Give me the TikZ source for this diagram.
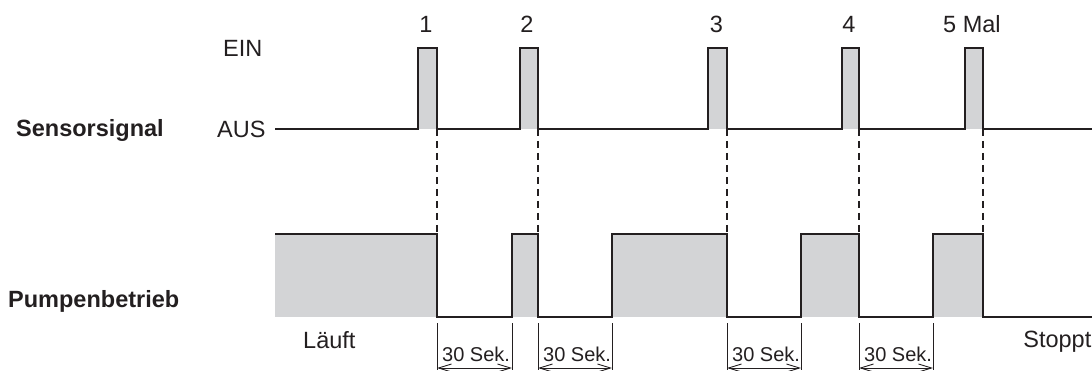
\documentclass[tikz,border=0pt]{standalone}
\usepackage{fontspec}
\setmainfont{Liberation Sans}
\usetikzlibrary{arrows.meta}
\definecolor{sigfill}{RGB}{211,212,214}
\definecolor{ink}{RGB}{35,31,32}
\begin{document}
\begin{tikzpicture}[x=1pt,y=-1pt,
  lbl/.style={inner sep=0pt,text=ink,font=\fontsize{23.5}{28}\selectfont},
  blbl/.style={lbl,font=\fontsize{23.5}{28}\selectfont\bfseries},
  seklbl/.style={inner sep=0pt,text=ink,font=\fontsize{20}{24}\selectfont,anchor=base west},
  wave/.style={draw=ink,line width=2.6pt,line join=miter},
  gfill/.style={fill=sigfill,draw=none},
  guide/.style={draw=ink,line width=2.4pt,dash pattern=on 7pt off 5pt},
  dimline/.style={draw=ink,line width=0.9pt},
  dimarrow/.style={draw=ink,line width=0.9pt,{Straight Barb[length=13pt,width=8pt]}-{Straight Barb[length=13pt,width=8pt]}}
]
\useasboundingbox (0,0) rectangle (1092,371);

% sensor pulses fill
\foreach \a/\b in {418/437,520/538,708/727,842/859,965/983}{
  \fill[sigfill] (\a,48) rectangle (\b,129);
}
% pump fill
\foreach \a/\b in {275/437,512/538,612/727,801/859,933/983}{
  \fill[sigfill] (\a,234) rectangle (\b,317);
}

% coordinates
\foreach \x/\n in {437/a,538/b,727/c,859/d,983/e}{
  \coordinate (s\n) at (\x,129);
  \coordinate (p\n) at (\x,234);
}

% dashed guides
\foreach \n in {a,b,c,d,e}{
  \draw[guide] (s\n) -- (p\n);
}

% sensor waveform
\draw[wave] (275,129) -- (418,129) -- (418,48) -- (437,48) -- (437,129)
  -- (520,129) -- (520,48) -- (538,48) -- (538,129)
  -- (708,129) -- (708,48) -- (727,48) -- (727,129)
  -- (842,129) -- (842,48) -- (859,48) -- (859,129)
  -- (965,129) -- (965,48) -- (983,48) -- (983,129) -- (1092,129);

% pump waveform
\draw[wave] (275,234) -- (437,234) -- (437,317) -- (512,317) -- (512,234)
  -- (538,234) -- (538,317) -- (612,317) -- (612,234) -- (727,234)
  -- (727,317) -- (801,317) -- (801,234) -- (859,234) -- (859,317)
  -- (933,317) -- (933,234) -- (983,234) -- (983,317) -- (1092,317);

% dimension brackets
\foreach \a/\b/\n in {437/512/1,538/612/2,727/801/3,859/933/4}{
  \coordinate (dl\n t) at (\a,323);
  \coordinate (dl\n b) at (\a,370);
  \coordinate (dr\n t) at (\b,323);
  \coordinate (dr\n b) at (\b,370);
  \coordinate (al\n) at (\a,368);
  \coordinate (ar\n) at (\b,368);
  \draw[dimline] (dl\n t) -- (dl\n b);
  \draw[dimline] (dr\n t) -- (dr\n b);
  \draw[dimarrow] (al\n) -- (ar\n);
  \node[seklbl] (sek\n) at (\a+5,361) {30 Sek.};
}

% labels
\node[lbl,anchor=base west] (ein) at (223,57) {EIN};
\node[lbl,anchor=base west] (aus) at (217,138) {AUS};
\node[blbl,anchor=base west] (sens) at (16,137) {Sensorsignal};
\node[blbl,anchor=base west] (pump) at (8,308) {Pumpenbetrieb};
\node[lbl,anchor=base west] (lauft) at (303,348) {Läuft};
\node[lbl,anchor=base east] (stoppt) at (1091.5,347) {Stoppt};
\node[lbl,anchor=base] (n1) at (426,33) {1};
\node[lbl,anchor=base] (n2) at (527,33) {2};
\node[lbl,anchor=base] (n3) at (716.5,33) {3};
\node[lbl,anchor=base] (n4) at (849,33) {4};
\node[lbl,anchor=base west] (n5) at (943,33) {5 Mal};
\end{tikzpicture}
\end{document}
